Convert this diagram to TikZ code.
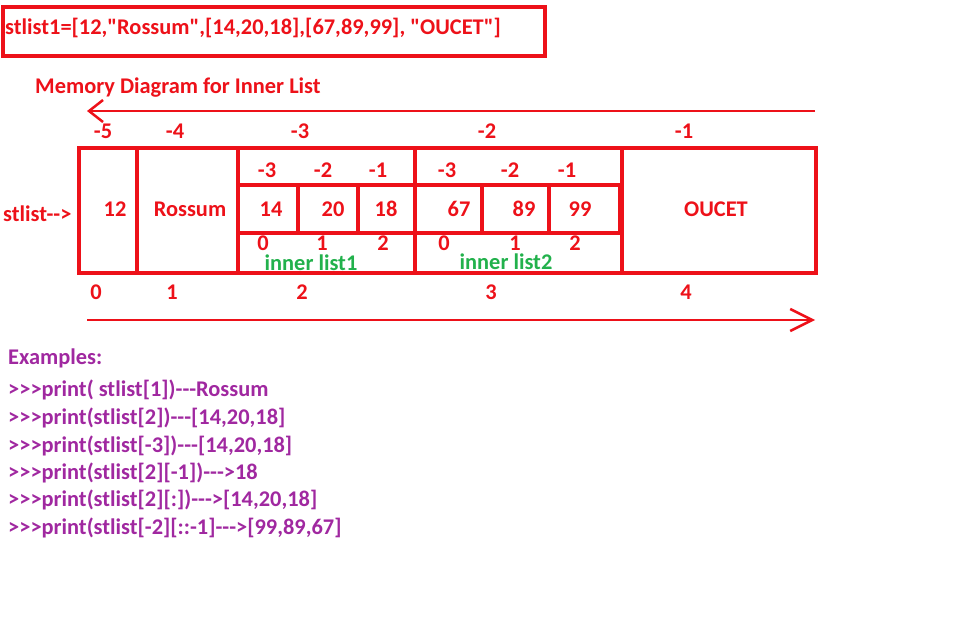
\documentclass[tikz,border=0pt]{standalone}
\usepackage{fontspec}
\setmainfont{Carlito}[Ligatures=TeXOff]
\usetikzlibrary{arrows.meta}
\definecolor{paintred}{RGB}{237,17,25}
\definecolor{paintgreen}{RGB}{34,177,76}
\definecolor{paintpurple}{RGB}{160,40,160}

\begin{document}
\begin{tikzpicture}[x=1pt,y=-1pt,
    every node/.style={font=\fontsize{22.4}{24}\selectfont\bfseries,text=paintred,inner sep=0pt},
    cellline/.style={draw=paintred,line width=3.5pt},
    arrowline/.style={draw=paintred,line width=2.5pt},
    greentext/.style={text=paintgreen,anchor=base},
    purpletext/.style={text=paintpurple,anchor=west}]
    \useasboundingbox (0,0) rectangle (963,624);
    % the list as it is written
    \draw[cellline] (3,7) rectangle (545,56);
    \node[anchor=west] (code) at (5,28) {stlist1=[12,"Rossum",[14,20,18],[67,89,99], "OUCET"]};
    \node[anchor=west] (title) at (35,88) {Memory Diagram for Inner List};
    \coordinate (negstart) at (815,111);
    \coordinate (negend) at (87,111);
    \draw[arrowline,-{Straight Barb[length=14pt,width=22pt]}] (negstart) -- (negend);
    % outer list
    \draw[cellline] (79,148) rectangle (816,273);
    \foreach \x in {137,238,415,622}
        \draw[cellline] (\x,148) -- (\x,273);
    % inner lists
    \draw[cellline] (238,185) rectangle (415,233);
    \draw[cellline] (415,185) rectangle (620,233);
    \foreach \x in {298,358,482,549}
        \draw[cellline] (\x,185) -- (\x,233);
    \node[anchor=west] (name) at (3,214) {stlist-->};
    \foreach \x/\t [count=\i] in {115/12,190/Rossum,271/14,333/20,386/18,459/67,524/89,580/99,716/OUCET}
        \node (val\i) at (\x,209) {\t};
    % negative indices
    \foreach \x/\t [count=\i] in {103/-5,175/-4,300/-3,487/-2,684/-1}
        \node (neg\i) at (\x,131) {\t};
    \foreach \x/\t [count=\i] in {267/-3,323/-2,378/-1,447/-3,510/-2,567/-1}
        \node (ineg\i) at (\x,170) {\t};
    % positive indices
    \foreach \x/\t [count=\i] in {263/0,322/1,383/2,444/0,515/1,575/2}
        \node[anchor=base] (ipos\i) at (\x,250) {\t};
    \node[greentext] (inner1) at (311,270) {inner list1};
    \node[greentext] (inner2) at (506,269) {inner list2};
    \foreach \x/\t [count=\i] in {96/0,172/1,302/2,491/3,686/4}
        \node (pos\i) at (\x,292) {\t};
    \coordinate (posstart) at (87,320);
    \coordinate (posend) at (815,320);
    \draw[arrowline,-{Straight Barb[length=22pt,width=22pt]}] (posstart) -- (posend);
    % examples
    \node[purpletext] (ex0) at (8,358) {Examples:};
    \foreach \y/\t [count=\i] in {390/{>>>print( stlist[1])---Rossum},
                                 418/{>>>print(stlist[2])---[14,20,18]},
                                 446/{>>>print(stlist[-3])---[14,20,18]},
                                 473/{>>>print(stlist[2][-1])--->18},
                                 500/{>>>print(stlist[2][:])--->[14,20,18]},
                                 528/{>>>print(stlist[-2][::-1]--->[99,89,67]}}
        \node[purpletext] (ex\i) at (8,\y) {\t};
\end{tikzpicture}
\end{document}
